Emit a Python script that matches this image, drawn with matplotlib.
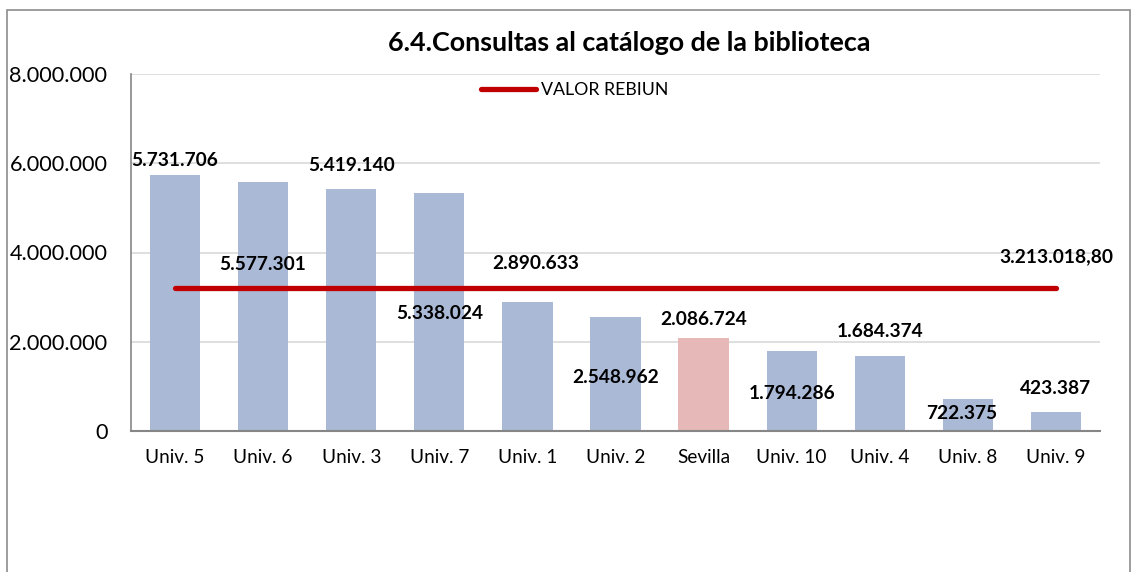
import matplotlib
matplotlib.use("Agg")
import matplotlib.pyplot as plt
from matplotlib.patches import Rectangle
from matplotlib.ticker import FuncFormatter

# Data
universidades = ["Univ. 5", "Univ. 6", "Univ. 3", "Univ. 7", "Univ. 1", "Univ. 2",
                 "Sevilla", "Univ. 10", "Univ. 4", "Univ. 8", "Univ. 9"]
consultas = [5731706, 5577301, 5419140, 5338024, 2890633, 2548962,
             2086724, 1794286, 1684374, 722375, 423387]
valor_rebiun = 3213018.80
titulo = "6.4.Consultas al catálogo de la biblioteca"
y_ticks = [0, 2000000, 4000000, 6000000, 8000000]

# Label placement (centre of each value label, in axis units)
label_y = [6.07e6, 3.72e6, 5.96e6, 2.64e6, 3.76e6, 1.21e6,
           2.49e6, 0.85e6, 2.22e6, 0.40e6, 0.96e6]
label_dx = [0, 0, 0, 0, 0.09, 0, 0, 0, 0, -0.07, 0]
rebiun_label_y = 3.90e6

FONT = "Lato"
BAR_BLUE = "#AAB9D6"
BAR_PINK = "#E6B8B7"
RED = "#C00000"


def miles(v):
    return f"{int(round(v)):,}".replace(",", ".")


fig = plt.figure(figsize=(11.36, 5.72), dpi=100)
fig.patch.set_facecolor("white")

# Outer chart frame (open at the bottom edge of the image)
fig.patches.append(Rectangle((7 / 1136, -0.05), (1130 - 7) / 1136, 1 - 10 / 572 + 0.05,
                             transform=fig.transFigure, fill=False,
                             edgecolor="#8C8C8C", linewidth=1.2))

ax = fig.add_axes([131 / 1136, 1 - 431 / 572, (1100 - 131) / 1136, (431 - 74) / 572])

x = list(range(len(universidades)))
colors = [BAR_PINK if u == "Sevilla" else BAR_BLUE for u in universidades]
ax.bar(x, consultas, width=0.57, color=colors, zorder=2)

line, = ax.plot([x[0], x[-1]], [valor_rebiun, valor_rebiun], color=RED, linewidth=3.8,
                solid_capstyle="round", zorder=3, label="VALOR REBIUN")

for xi, v, ly, dx in zip(x, consultas, label_y, label_dx):
    ax.text(xi + dx, ly, miles(v), ha="center", va="center", fontsize=13.8,
            fontweight="bold", family=FONT, color="black", zorder=4)

rebiun_txt = f"{valor_rebiun:,.2f}".replace(",", "X").replace(".", ",").replace("X", ".")
ax.text(x[-1], rebiun_label_y, rebiun_txt, ha="center", va="center", fontsize=13.8,
        fontweight="bold", family=FONT, color="black", zorder=4)

ax.set_xlim(-0.5, len(universidades) - 0.5)
ax.set_ylim(0, 8000000)
ax.set_yticks(y_ticks)
ax.yaxis.set_major_formatter(FuncFormatter(lambda v, p: miles(v)))
ax.set_xticks(x)
ax.set_xticklabels(universidades)
ax.tick_params(axis="y", length=0, pad=17, labelsize=15.6)
ax.tick_params(axis="x", length=0, pad=13, labelsize=13.7)
for lab in ax.get_xticklabels() + ax.get_yticklabels():
    lab.set_family(FONT)

ax.grid(axis="y", color="#D9D9D9", linewidth=1.2, zorder=0)
ax.set_axisbelow(True)
for s in ["top", "right"]:
    ax.spines[s].set_visible(False)
ax.spines["left"].set_color("#868686")
ax.spines["bottom"].set_color("#868686")
ax.spines["left"].set_linewidth(1.2)
ax.spines["bottom"].set_linewidth(1.5)

fig.text(629 / 1136, 1 - 43 / 572, titulo, ha="center", va="center", fontsize=19.4,
         fontweight="bold", family=FONT)

fig.legend(handles=[line], loc="center left", bbox_to_anchor=(481 / 1136, 1 - 90 / 572),
           frameon=False, borderpad=0, borderaxespad=0, handlelength=3.1,
           handletextpad=0.25, prop={"family": FONT, "size": 12.8})

fig.savefig("out.png", dpi=100, facecolor="white")
